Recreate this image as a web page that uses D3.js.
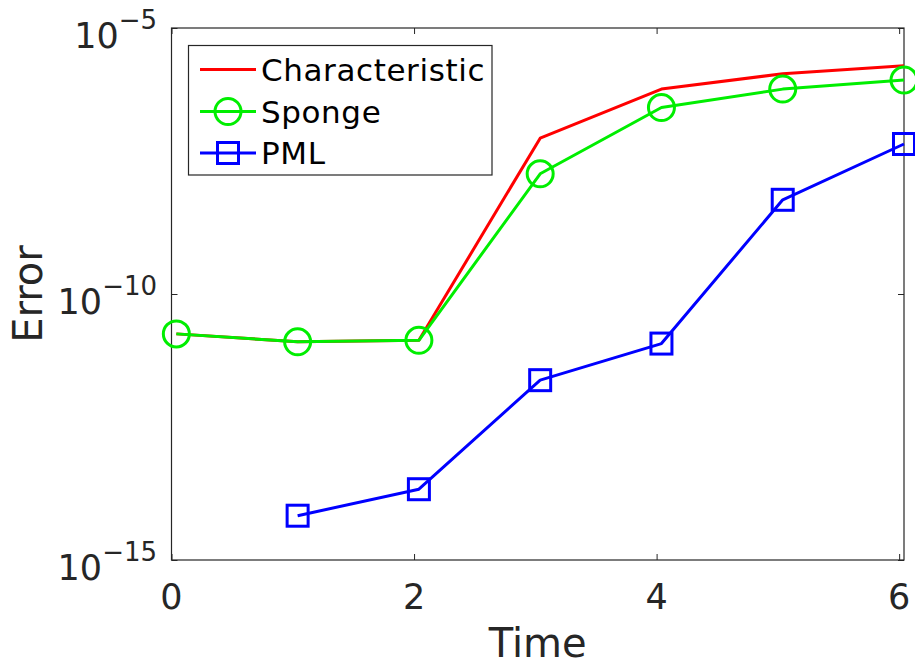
<!DOCTYPE html>
<html>
<head>
<meta charset="utf-8">
<script src="https://cdn.jsdelivr.net/npm/d3@7/dist/d3.min.js"></script>
<style>
  html, body { margin: 0; padding: 0; background: #fff; overflow: hidden; }
  svg { display: block; font-family: "DejaVu Sans", sans-serif; }
</style>
</head>
<body>
<svg id="chart" width="915" height="667"></svg>
<script>
// Sample times (s)
const times = [0.04, 1.04, 2.04, 3.04, 4.04, 5.04, 6.04];
// Error for each boundary treatment
const characteristic = [1.78e-11, 1.26e-11, 1.35e-11, 8.5e-8, 7.1e-7, 1.38e-6, 1.95e-6];
const sponge = [1.78e-11, 1.26e-11, 1.35e-11, 1.82e-8, 3.2e-7, 7.1e-7, 1.05e-6];
const pmlTimes = [1.04, 2.04, 3.04, 4.04, 5.04, 6.04];
const pml = [6.8e-15, 2.14e-14, 2.4e-12, 1.17e-11, 5.9e-9, 6.6e-8];

const xTicks = [0, 2, 4, 6];
const yTicks = [1e-15, 1e-10, 1e-5];
const yTickExponents = ["\u221215", "\u221210", "\u22125"];

const seriesNames = ["Characteristic", "Sponge", "PML"];
const seriesColors = ["#ff0000", "#00ee00", "#0000ff"];
const seriesMarkers = ["none", "circle", "square"];

const margin = { left: 171.5, top: 28, right: 904, bottom: 560 };
const axisColor = "#262626";

const svg = d3.select("#chart");

const x = d3.scaleLinear().domain([0, 6.04]).range([margin.left, margin.right]);
const y = d3.scaleLog().domain([1e-15, 1e-5]).range([margin.bottom, margin.top]);

// Axes with inward ticks on all four sides
const tickLen = 6;
function styleAxis(g) {
  g.select(".domain").remove();
  g.selectAll(".tick line").attr("stroke", axisColor).attr("stroke-width", 1);
  g.selectAll(".tick text").remove();
}
svg.append("g").attr("transform", `translate(0,${margin.bottom})`)
  .call(d3.axisBottom(x).tickValues(xTicks).tickSize(-tickLen).tickFormat("")).call(styleAxis);
svg.append("g").attr("transform", `translate(0,${margin.top})`)
  .call(d3.axisTop(x).tickValues(xTicks).tickSize(-tickLen).tickFormat("")).call(styleAxis);
svg.append("g").attr("transform", `translate(${margin.left},0)`)
  .call(d3.axisLeft(y).tickValues(yTicks).tickSize(-tickLen).tickFormat("")).call(styleAxis);
svg.append("g").attr("transform", `translate(${margin.right},0)`)
  .call(d3.axisRight(y).tickValues(yTicks).tickSize(-tickLen).tickFormat("")).call(styleAxis);

// Box
svg.append("rect")
  .attr("x", margin.left).attr("y", margin.top)
  .attr("width", margin.right - margin.left).attr("height", margin.bottom - margin.top)
  .attr("fill", "none").attr("stroke", axisColor).attr("stroke-width", 1.2);

// X tick labels
svg.append("g").selectAll("text").data(xTicks).join("text")
  .attr("x", d => x(d)).attr("y", 609)
  .attr("text-anchor", "middle")
  .attr("font-size", 35).attr("fill", axisColor)
  .text(d => d);

// Y tick labels: 10 with superscript exponent
const yl = svg.append("g").selectAll("text").data(yTicks).join("text")
  .attr("x", 157).attr("y", d => y(d) + 19.5)
  .attr("text-anchor", "end")
  .attr("fill", axisColor);
yl.append("tspan").attr("font-size", 35).text("10");
yl.append("tspan").attr("font-size", 26).attr("dy", -18.5)
  .text((d, i) => yTickExponents[i]);

// Axis titles
svg.append("text")
  .attr("x", (margin.left + margin.right) / 2).attr("y", 657)
  .attr("text-anchor", "middle").attr("font-size", 40).attr("fill", axisColor)
  .text("Time");
svg.append("text")
  .attr("transform", `translate(42,${(margin.top + margin.bottom) / 2}) rotate(-90)`)
  .attr("text-anchor", "middle").attr("font-size", 40).attr("fill", axisColor)
  .text("Error");

// Series
const series = [
  { name: seriesNames[0], t: times, v: characteristic, color: seriesColors[0], marker: seriesMarkers[0] },
  { name: seriesNames[1], t: times, v: sponge, color: seriesColors[1], marker: seriesMarkers[1] },
  { name: seriesNames[2], t: pmlTimes, v: pml, color: seriesColors[2], marker: seriesMarkers[2] }
];

const line = d3.line().x(d => x(d[0])).y(d => y(d[1]));
const lineWidth = 3;
const circleR = 13;
const squareHalf = 10.5;

function drawMarker(g, kind, cx, cy, color) {
  if (kind === "circle") {
    g.append("circle").attr("cx", cx).attr("cy", cy).attr("r", circleR)
      .attr("fill", "none").attr("stroke", color).attr("stroke-width", lineWidth);
  } else if (kind === "square") {
    g.append("rect").attr("x", cx - squareHalf).attr("y", cy - squareHalf)
      .attr("width", 2 * squareHalf).attr("height", 2 * squareHalf)
      .attr("fill", "none").attr("stroke", color).attr("stroke-width", lineWidth);
  }
}

series.forEach(s => {
  const pts = s.t.map((t, i) => [t, s.v[i]]);
  const g = svg.append("g");
  g.append("path").datum(pts).attr("d", line)
    .attr("fill", "none").attr("stroke", s.color).attr("stroke-width", lineWidth)
    .attr("stroke-linejoin", "round");
  pts.forEach(p => drawMarker(g, s.marker, x(p[0]), y(p[1]), s.color));
});

// Legend
const legend = svg.append("g");
legend.append("rect")
  .attr("x", 188.5).attr("y", 45.5).attr("width", 303.5).attr("height", 129.5)
  .attr("fill", "#fff").attr("stroke", axisColor).attr("stroke-width", 1.2);
const rowY = [69.5, 111.5, 153];
series.forEach((s, i) => {
  legend.append("line")
    .attr("x1", 200).attr("x2", 256).attr("y1", rowY[i]).attr("y2", rowY[i])
    .attr("stroke", s.color).attr("stroke-width", lineWidth);
  drawMarker(legend, s.marker, 228, rowY[i], s.color);
  legend.append("text")
    .attr("x", 261).attr("y", rowY[i] + 11)
    .attr("font-size", 31).attr("letter-spacing", 0.6).attr("fill", "#000")
    .text(s.name);
});
</script>
</body>
</html>
